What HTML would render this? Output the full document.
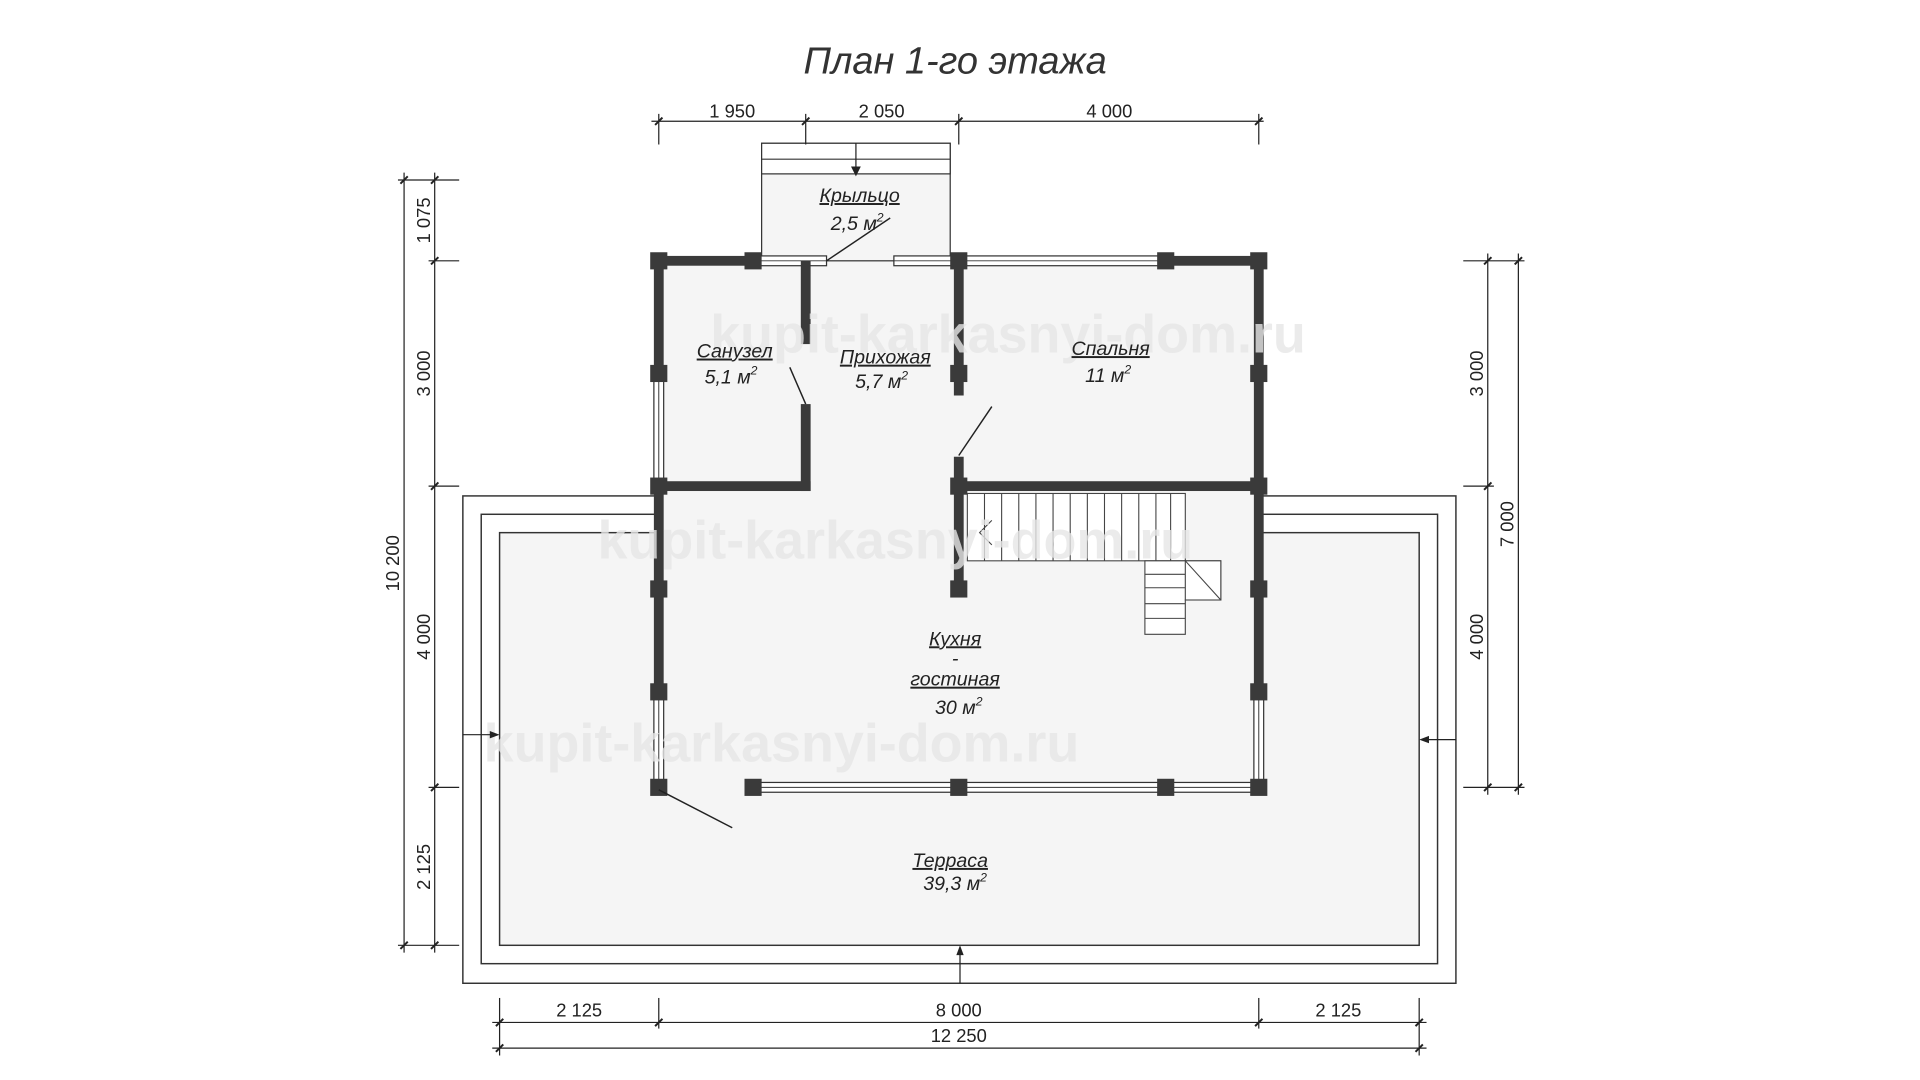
<!DOCTYPE html>
<html><head><meta charset="utf-8"><style>
html,body{margin:0;padding:0;background:#fff;width:1920px;height:1080px;overflow:hidden}
svg{display:block}
text{font-family:"Liberation Sans","DejaVu Sans",sans-serif;fill:#222}
</style></head><body>
<svg width="1920" height="1080" viewBox="0 0 1568 882" preserveAspectRatio="none" xmlns="http://www.w3.org/2000/svg">
<rect width="1568" height="882" fill="#fff"/>
<text x="780" y="60" font-size="31" text-anchor="middle" font-style="italic" style="fill:#333">План 1-го этажа</text>

<!-- terrace -->
<rect x="378" y="405" width="811" height="398" fill="#fff" stroke="#333" stroke-width="1.2"/>
<rect x="393" y="420" width="781" height="367" fill="#fff" stroke="#333" stroke-width="1.2"/>
<rect x="408" y="435" width="751" height="337" fill="#f5f5f5" stroke="#333" stroke-width="1.2"/>
<!-- house interior -->
<rect x="538" y="213" width="490" height="430" fill="#f5f5f5"/>
<!-- porch -->
<rect x="622" y="117" width="154" height="96" fill="#f5f5f5" stroke="#333" stroke-width="1"/>
<rect x="622" y="117" width="154" height="25" fill="#fff" stroke="#333" stroke-width="1"/>
<line x1="622" y1="130" x2="776" y2="130" stroke="#333"/>
<line x1="699" y1="117" x2="699" y2="140" stroke="#222"/>
<path d="M695 136 L699 144 L703 136Z" fill="#222"/>

<!-- windows (thin) -->
<g fill="#fff" stroke="#333" stroke-width="1">
<rect x="615" y="209" width="60" height="8"/>
<rect x="730" y="209" width="53" height="8"/>
<rect x="783" y="209" width="169" height="8"/>
<rect x="534" y="305" width="8" height="92"/>
<rect x="534" y="565" width="8" height="78"/>
<rect x="1024" y="565" width="8" height="78"/>
<rect x="615" y="639" width="413" height="8"/>
</g>
<g stroke="#333" stroke-width="0.8">
<line x1="615" y1="213" x2="675" y2="213"/><line x1="730" y1="213" x2="783" y2="213"/>
<line x1="783" y1="213" x2="952" y2="213"/><line x1="538" y1="305" x2="538" y2="397"/>
<line x1="538" y1="565" x2="538" y2="643"/><line x1="1028" y1="565" x2="1028" y2="643"/>
<line x1="615" y1="643" x2="1028" y2="643"/>
</g>

<!-- stairs -->
<g stroke="#444" stroke-width="0.9" fill="#fff">
<rect x="790" y="403" width="178" height="55"/>
<path d="M935 458 H997 V490 H968 V518 H935 Z"/>
<rect x="968" y="458" width="29" height="32"/>
</g>
<g stroke="#444" stroke-width="0.9">
<line x1="804" y1="403" x2="804" y2="458"/><line x1="818" y1="403" x2="818" y2="458"/>
<line x1="832" y1="403" x2="832" y2="458"/><line x1="846" y1="403" x2="846" y2="458"/>
<line x1="860" y1="403" x2="860" y2="458"/><line x1="874" y1="403" x2="874" y2="458"/>
<line x1="888" y1="403" x2="888" y2="458"/><line x1="902" y1="403" x2="902" y2="458"/>
<line x1="916" y1="403" x2="916" y2="458"/><line x1="930" y1="403" x2="930" y2="458"/>
<line x1="944" y1="403" x2="944" y2="458"/><line x1="956" y1="403" x2="956" y2="458"/>
<line x1="935" y1="469" x2="968" y2="469"/><line x1="935" y1="480" x2="968" y2="480"/>
<line x1="935" y1="493" x2="968" y2="493"/><line x1="935" y1="505" x2="968" y2="505"/>
<line x1="968" y1="458" x2="997" y2="490"/>
<polyline points="810,425 800,435 810,445" fill="none"/>
</g>

<!-- thick walls -->
<g fill="#3a3a3a">
<rect x="534" y="209" width="81" height="8"/>
<rect x="952" y="209" width="80" height="8"/>
<rect x="534" y="209" width="8" height="96"/>
<rect x="534" y="397" width="8" height="168"/>
<rect x="1024" y="209" width="8" height="356"/>
<rect x="654" y="213" width="8" height="68"/>
<rect x="654" y="330" width="8" height="71"/>
<rect x="538" y="393" width="124" height="8"/>
<rect x="779" y="213" width="8" height="110"/>
<rect x="779" y="373" width="8" height="108"/>
<rect x="783" y="393" width="245" height="8"/>
</g>
<!-- posts -->
<g fill="#3a3a3a">
<rect x="531" y="206" width="14" height="14"/><rect x="608" y="206" width="14" height="14"/>
<rect x="776" y="206" width="14" height="14"/><rect x="945" y="206" width="14" height="14"/>
<rect x="1021" y="206" width="14" height="14"/>
<rect x="531" y="298" width="14" height="14"/><rect x="1021" y="298" width="14" height="14"/>
<rect x="776" y="298" width="14" height="14"/>
<rect x="531" y="390" width="14" height="14"/><rect x="776" y="390" width="14" height="14"/>
<rect x="1021" y="390" width="14" height="14"/>
<rect x="531" y="474" width="14" height="14"/><rect x="776" y="474" width="14" height="14"/>
<rect x="1021" y="474" width="14" height="14"/>
<rect x="531" y="558" width="14" height="14"/><rect x="1021" y="558" width="14" height="14"/>
<rect x="531" y="636" width="14" height="14"/><rect x="608" y="636" width="14" height="14"/>
<rect x="776" y="636" width="14" height="14"/><rect x="945" y="636" width="14" height="14"/>
<rect x="1021" y="636" width="14" height="14"/>
</g>

<!-- watermarks -->
<g font-size="44" font-weight="bold">
<text x="580" y="288" style="fill:#e6e6e6;fill-opacity:0.8">kupit-karkasnyi-dom.ru</text>
<text x="488" y="456" style="fill:#e6e6e6;fill-opacity:0.8">kupit-karkasnyi-dom.ru</text>
<text x="395" y="622" style="fill:#e6e6e6;fill-opacity:0.8">kupit-karkasnyi-dom.ru</text>
</g>

<!-- door swings -->
<g stroke="#222" stroke-width="1.2">
<line x1="675" y1="213" x2="727" y2="178"/>
<line x1="645" y1="300" x2="658" y2="330"/>
<line x1="783" y1="372" x2="810" y2="332"/>
<line x1="538" y1="645" x2="598" y2="676"/>
</g>

<!-- terrace arrows -->
<g stroke="#222" stroke-width="1">
<line x1="378" y1="600" x2="404" y2="600"/><line x1="1163" y1="604" x2="1189" y2="604"/>
<line x1="784" y1="776" x2="784" y2="803"/>
</g>
<path d="M400 597 L408 600 L400 603Z M1167 601 L1159 604 L1167 607Z M781 780 L784 772 L787 780Z" fill="#222"/>

<!-- room labels -->
<g font-size="16" text-anchor="middle" font-style="italic">
<text x="702" y="165" text-decoration="underline">Крыльцо</text>
<text x="700" y="188">2,5 м<tspan font-size="10" dy="-7">2</tspan></text>
<text x="600" y="292" text-decoration="underline">Санузел</text>
<text x="597" y="313">5,1 м<tspan font-size="10" dy="-7">2</tspan></text>
<text x="723" y="297" text-decoration="underline">Прихожая</text>
<text x="720" y="317">5,7 м<tspan font-size="10" dy="-7">2</tspan></text>
<text x="907" y="290" text-decoration="underline">Спальня</text>
<text x="905" y="312">11 м<tspan font-size="10" dy="-7">2</tspan></text>
<text x="780" y="527" text-decoration="underline">Кухня</text>
<text x="780" y="543">-</text>
<text x="780" y="560" text-decoration="underline">гостиная</text>
<text x="783" y="583">30 м<tspan font-size="10" dy="-7">2</tspan></text>
<text x="776" y="708" text-decoration="underline">Терраса</text>
<text x="780" y="727">39,3 м<tspan font-size="10" dy="-7">2</tspan></text>
</g>

<!-- dimensions -->
<g stroke="#222" stroke-width="1" fill="none">
<line x1="532" y1="99" x2="1032" y2="99"/>
<line x1="538" y1="93" x2="538" y2="118"/><line x1="658" y1="93" x2="658" y2="118"/>
<line x1="783" y1="93" x2="783" y2="118"/><line x1="1028" y1="93" x2="1028" y2="118"/>
<line x1="355" y1="141" x2="355" y2="778"/><line x1="330" y1="141" x2="330" y2="778"/>
<line x1="325" y1="147" x2="375" y2="147"/><line x1="350" y1="213" x2="375" y2="213"/>
<line x1="350" y1="397" x2="375" y2="397"/><line x1="350" y1="643" x2="375" y2="643"/>
<line x1="325" y1="772" x2="375" y2="772"/>
<line x1="1215" y1="207" x2="1215" y2="649"/><line x1="1240" y1="207" x2="1240" y2="649"/>
<line x1="1195" y1="213" x2="1245" y2="213"/><line x1="1195" y1="397" x2="1220" y2="397"/>
<line x1="1195" y1="643" x2="1245" y2="643"/>
<line x1="402" y1="835" x2="1165" y2="835"/><line x1="402" y1="856" x2="1165" y2="856"/>
<line x1="408" y1="815" x2="408" y2="862"/><line x1="538" y1="815" x2="538" y2="840"/>
<line x1="1028" y1="815" x2="1028" y2="840"/><line x1="1159" y1="815" x2="1159" y2="862"/>
</g>
<g stroke="#222" stroke-width="1.6">
<line x1="535" y1="102" x2="541" y2="96"/><line x1="655" y1="102" x2="661" y2="96"/>
<line x1="780" y1="102" x2="786" y2="96"/><line x1="1025" y1="102" x2="1031" y2="96"/>
<line x1="352" y1="150" x2="358" y2="144"/><line x1="352" y1="216" x2="358" y2="210"/>
<line x1="352" y1="400" x2="358" y2="394"/><line x1="352" y1="646" x2="358" y2="640"/>
<line x1="352" y1="775" x2="358" y2="769"/>
<line x1="327" y1="150" x2="333" y2="144"/><line x1="327" y1="775" x2="333" y2="769"/>
<line x1="1212" y1="216" x2="1218" y2="210"/><line x1="1212" y1="400" x2="1218" y2="394"/>
<line x1="1212" y1="646" x2="1218" y2="640"/><line x1="1237" y1="216" x2="1243" y2="210"/>
<line x1="1237" y1="646" x2="1243" y2="640"/>
<line x1="405" y1="838" x2="411" y2="832"/><line x1="535" y1="838" x2="541" y2="832"/>
<line x1="1025" y1="838" x2="1031" y2="832"/><line x1="1156" y1="838" x2="1162" y2="832"/>
<line x1="405" y1="859" x2="411" y2="853"/><line x1="1156" y1="859" x2="1162" y2="853"/>
</g>
<g font-size="15" text-anchor="middle">
<text x="598" y="96">1 950</text><text x="720" y="96">2 050</text><text x="906" y="96">4 000</text>
<text x="473" y="830">2 125</text><text x="783" y="830">8 000</text><text x="1093" y="830">2 125</text>
<text x="783" y="851">12 250</text>
<text transform="translate(351,180) rotate(-90)">1 075</text>
<text transform="translate(351,305) rotate(-90)">3 000</text>
<text transform="translate(351,520) rotate(-90)">4 000</text>
<text transform="translate(351,708) rotate(-90)">2 125</text>
<text transform="translate(326,460) rotate(-90)">10 200</text>
<text transform="translate(1211,305) rotate(-90)">3 000</text>
<text transform="translate(1211,520) rotate(-90)">4 000</text>
<text transform="translate(1236,428) rotate(-90)">7 000</text>
</g>
</svg>
</body></html>
